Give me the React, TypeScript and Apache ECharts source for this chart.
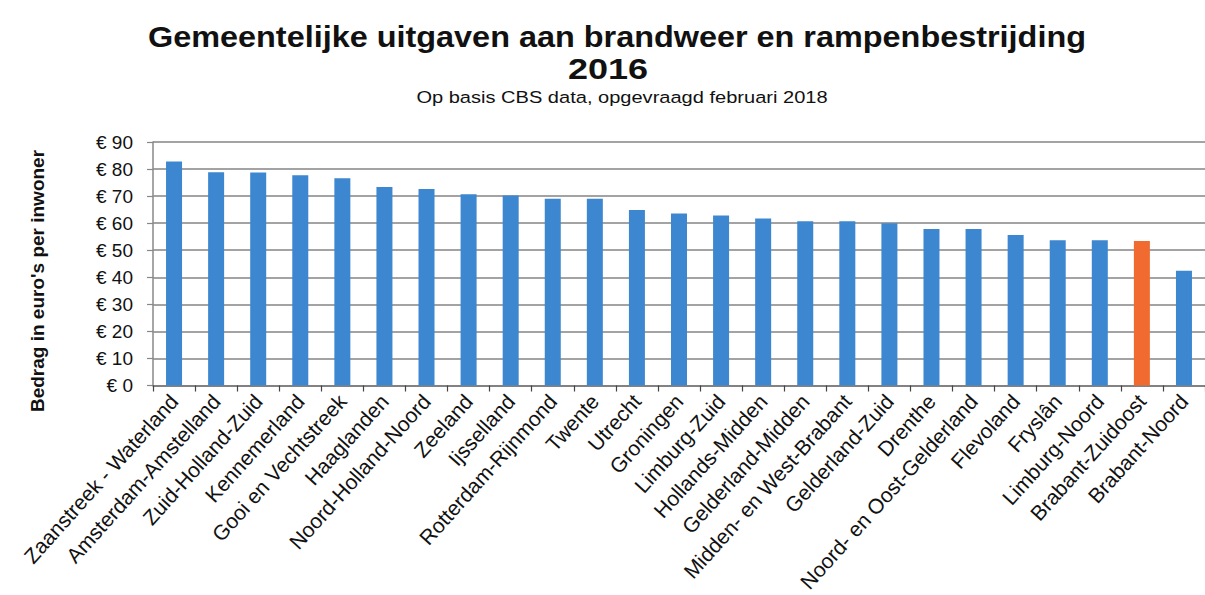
import React, { useEffect, useRef } from "react";
import * as echarts from "echarts";

const categories = [
  "Zaanstreek - Waterland",
  "Amsterdam-Amstelland",
  "Zuid-Holland-Zuid",
  "Kennemerland",
  "Gooi en Vechtstreek",
  "Haaglanden",
  "Noord-Holland-Noord",
  "Zeeland",
  "Ijsselland",
  "Rotterdam-Rijnmond",
  "Twente",
  "Utrecht",
  "Groningen",
  "Limburg-Zuid",
  "Hollands-Midden",
  "Gelderland-Midden",
  "Midden- en West-Brabant",
  "Gelderland-Zuid",
  "Drenthe",
  "Noord- en Oost-Gelderland",
  "Flevoland",
  "Fryslân",
  "Limburg-Noord",
  "Brabant-Zuidoost",
  "Brabant-Noord",
];

const values = [
  82.8, 78.8, 78.7, 77.7, 76.6, 73.4, 72.6, 70.7, 70.2, 69.0, 69.0, 64.9, 63.6,
  62.8, 61.7, 60.7, 60.7, 60.0, 57.8, 57.8, 55.6, 53.7, 53.7, 53.4, 42.4,
];

const highlighted = "Brabant-Zuidoost";

const yTicks = [0, 10, 20, 30, 40, 50, 60, 70, 80, 90];

const titleMain = "Gemeentelijke uitgaven aan brandweer en rampenbestrijding";
const titleYear = "2016";
const subtitle = "Op basis CBS data, opgevraagd februari 2018";
const yName = "Bedrag in euro's per inwoner";

const BLUE = "#3c87cf";
const ORANGE = "#f16a2f";
const FONT = "'Liberation Sans', Arial, Helvetica, sans-serif";

export default function App() {
  const ref = useRef<HTMLDivElement>(null);

  useEffect(() => {
    document.body.style.margin = "0";
    const chart = echarts.init(ref.current!, null, { renderer: "svg" });
    chart.setOption({
      animation: false,
      backgroundColor: "#ffffff",
      textStyle: { fontFamily: FONT },
      graphic: [
        {
          type: "text",
          x: 617,
          y: 37,
          scaleX: 1.08,
          style: {
            text: titleMain,
            font: `bold 30px ${FONT}`,
            fill: "#111",
            align: "center",
            verticalAlign: "middle",
          },
        },
        {
          type: "text",
          x: 608,
          y: 69,
          scaleX: 1.2,
          style: {
            text: titleYear,
            font: `bold 30px ${FONT}`,
            fill: "#111",
            align: "center",
            verticalAlign: "middle",
          },
        },
        {
          type: "text",
          x: 622,
          y: 97,
          scaleX: 1.18,
          style: {
            text: subtitle,
            font: `17px ${FONT}`,
            fill: "#111",
            align: "center",
            verticalAlign: "middle",
          },
        },
        {
          type: "text",
          x: 37,
          y: 281,
          rotation: Math.PI / 2,
          style: {
            text: yName,
            font: `bold 19px ${FONT}`,
            fill: "#111",
            align: "center",
            verticalAlign: "middle",
          },
        },
      ],
      grid: { left: 153, top: 142, width: 1060, height: 246, containLabel: false },
      xAxis: {
        type: "category",
        data: categories,
        axisLine: { show: true, lineStyle: { color: "#777", width: 1.5 } },
        axisTick: { show: true, alignWithLabel: false, length: 6, lineStyle: { color: "#444", width: 1.2 } },
        axisLabel: {
          interval: 0,
          rotate: 48,
          margin: 12,
          fontFamily: FONT,
          fontSize: 21,
          color: "#111",
        },
        splitLine: { show: false },
      },
      yAxis: {
        type: "value",
        min: yTicks[0],
        max: yTicks[yTicks.length - 1],
        interval: 10,
        axisLine: { show: true, lineStyle: { color: "#888", width: 1.5 } },
        axisTick: { show: true, inside: false, length: 6, lineStyle: { color: "#888", width: 1.2 } },
        axisLabel: {
          margin: 20,
          fontFamily: FONT,
          fontSize: 19,
          color: "#111",
          formatter: (v: number) => `€ ${v}`,
        },
        splitLine: { show: true, lineStyle: { color: "#858585", width: 1.6 } },
      },
      series: [
        {
          type: "bar",
          data: values.map((v, i) => ({
            value: v,
            itemStyle: { color: categories[i] === highlighted ? ORANGE : BLUE },
          })),
          barWidth: 16,
        },
      ],
    });
    return () => chart.dispose();
  }, []);

  return (
    <div
      ref={ref}
      style={{ position: "absolute", left: 0, top: 0, width: 1205, height: 595 }}
    />
  );
}
